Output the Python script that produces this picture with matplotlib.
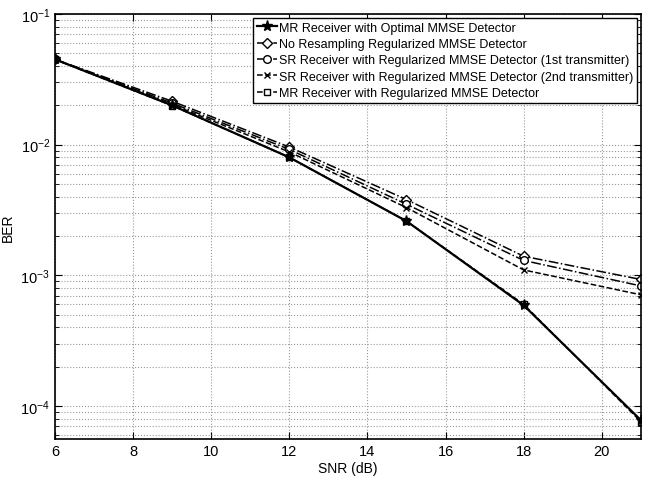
import matplotlib
matplotlib.use('Agg')
from matplotlib import pyplot as plt
from matplotlib.ticker import LogLocator, NullFormatter
import numpy as np

snr = [6, 9, 12, 15, 18, 21]

ber_mr_opt = [0.045, 0.0200, 0.0080, 0.0026, 0.00059, 0.000078]
ber_no_resamp = [0.045, 0.0215, 0.0096, 0.0038, 0.00140, 0.00093]
ber_sr_1st = [0.045, 0.0208, 0.0092, 0.0035, 0.00130, 0.00083]
ber_sr_2nd = [0.045, 0.0203, 0.0088, 0.0033, 0.00110, 0.00071]
ber_mr_reg = [0.045, 0.0199, 0.0080, 0.0026, 0.00060, 0.000076]

labels = ['MR Receiver with Optimal MMSE Detector',
          'No Resampling Regularized MMSE Detector',
          'SR Receiver with Regularized MMSE Detector (1st transmitter)',
          'SR Receiver with Regularized MMSE Detector (2nd transmitter)',
          'MR Receiver with Regularized MMSE Detector']

plt.rcParams['font.family'] = ['Liberation Sans', 'DejaVu Sans']

fig = plt.figure(figsize=(6.62, 4.85), dpi=100)
ax = fig.add_axes([0.083, 0.093, 0.885, 0.876])

ax.semilogy(snr, ber_mr_opt, 'k-', marker='*', ms=8, mfc='k', lw=1.6, zorder=5, label=labels[0])
ax.semilogy(snr, ber_no_resamp, 'k-.', marker='D', ms=5, mfc='white', lw=1.1, label=labels[1])
ax.semilogy(snr, ber_sr_1st, 'k-.', marker='o', ms=5.5, mfc='white', lw=1.1, label=labels[2])
ax.semilogy(snr, ber_sr_2nd, 'k--', marker='x', ms=5, lw=1.1, label=labels[3])
ax.semilogy(snr, ber_mr_reg, 'k--', marker='s', ms=5, mfc='white', lw=1.1, label=labels[4])

ax.set_xlim(6, 21)
ax.set_ylim(5.6e-5, 1e-1)
ax.set_xticks(np.arange(6, 21, 2))
ax.yaxis.set_major_locator(LogLocator(base=10, numticks=10))
ax.yaxis.set_minor_locator(LogLocator(base=10, subs=np.arange(2, 10), numticks=10))
ax.yaxis.set_minor_formatter(NullFormatter())

ax.grid(True, which='major', linestyle=':', color='#999999', lw=0.8)
ax.grid(True, which='minor', axis='y', linestyle=':', color='#999999', lw=0.8)
ax.tick_params(which='both', direction='in', top=True, right=True, labelsize=10.5)
ax.tick_params(which='major', length=5)
ax.tick_params(which='minor', length=3)
for spine in ax.spines.values():
    spine.set_linewidth(1.2)

ax.set_xlabel('SNR (dB)', fontsize=10, labelpad=2)
ax.set_ylabel('BER', fontsize=10, labelpad=4)

leg = ax.legend(loc='upper right', fontsize=9, frameon=True, fancybox=False,
                edgecolor='k', framealpha=1, labelspacing=0.35, handlelength=1.6,
                handletextpad=0.2, borderpad=0.3, borderaxespad=0.3)
leg.get_frame().set_linewidth(1.0)

plt.savefig('out.png', dpi=100)
